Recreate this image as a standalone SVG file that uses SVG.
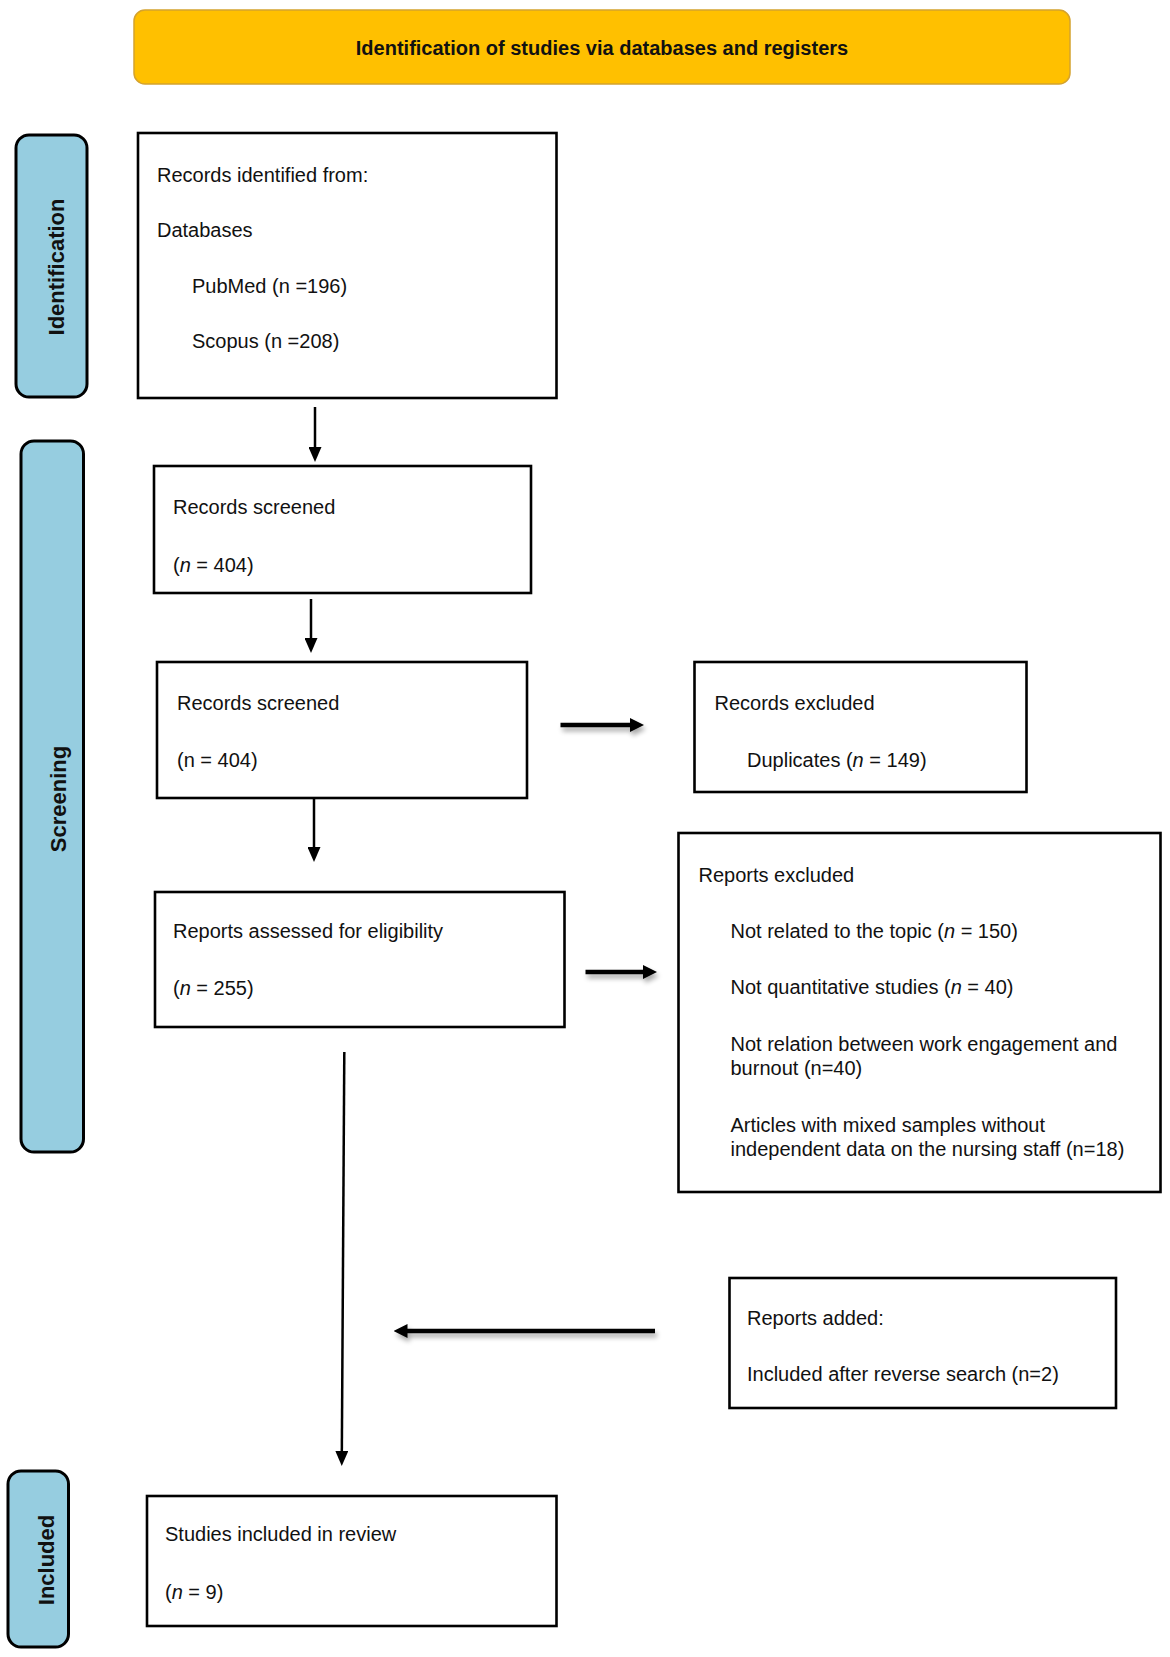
<svg xmlns="http://www.w3.org/2000/svg" width="1170" height="1657" viewBox="0 0 1170 1657">
<style>
.box{fill:#ffffff;stroke:#000000;stroke-width:2.6}
.lab{fill:#96cde0;stroke:#000000;stroke-width:3}
.hdr{fill:#ffc000;stroke:#d4a22e;stroke-width:1.5}
.t{font-family:"Liberation Sans",Arial,sans-serif;font-size:20px;fill:#111111}
.hb{font-family:"Liberation Sans",Arial,sans-serif;font-size:20px;font-weight:bold;fill:#111111}
.lt{font-family:"Liberation Sans",Arial,sans-serif;font-size:22px;font-weight:bold;fill:#111111}
.i{font-style:italic}
.thin{fill:none;stroke:#000000;stroke-width:2.5}
.thick{fill:none;stroke:#000000;stroke-width:4.5}
</style>
<defs>
<marker id="ah" viewBox="0 0 15 13" refX="7" refY="6.5" markerWidth="15" markerHeight="13" markerUnits="userSpaceOnUse" orient="auto">
<path d="M0,0 L15,6.5 L0,13 z" fill="#000000"/>
</marker>
<marker id="ahb" viewBox="0 0 14 14" refX="6" refY="7" markerWidth="14" markerHeight="14" markerUnits="userSpaceOnUse" orient="auto">
<path d="M0,0 L14,7 L0,14 z" fill="#000000"/>
</marker>
<filter id="sh" x="-20%" y="-200%" width="140%" height="500%">
<feGaussianBlur in="SourceAlpha" stdDeviation="2.5"/>
<feOffset dx="2" dy="4" result="b"/>
<feComponentTransfer><feFuncA type="linear" slope="0.35"/></feComponentTransfer>
<feMerge><feMergeNode/><feMergeNode in="SourceGraphic"/></feMerge>
</filter>
</defs>

<g id="header">
<rect class="hdr" x="134" y="10" width="936" height="74" rx="11"/>
<text class="hb" x="602" y="55" text-anchor="middle">Identification of studies via databases and registers</text>
</g>

<g id="label-identification">
<rect class="lab" x="16" y="135" width="71" height="262" rx="13"/>
<text class="lt" transform="translate(64,267) rotate(-90)" text-anchor="middle">Identification</text>
</g>
<g id="label-screening">
<rect class="lab" x="21" y="441" width="62.5" height="711" rx="13"/>
<text class="lt" transform="translate(66,799) rotate(-90)" text-anchor="middle">Screening</text>
</g>
<g id="label-included">
<rect class="lab" x="8" y="1471" width="60.5" height="176" rx="13"/>
<text class="lt" transform="translate(54,1560) rotate(-90)" text-anchor="middle">Included</text>
</g>

<g id="records-identified">
<rect class="box" x="138" y="133" width="418.5" height="265"/>
<text class="t" x="157" y="182">Records identified from:</text>
<text class="t" x="157" y="237">Databases</text>
<text class="t" x="192" y="293">PubMed (n =196)</text>
<text class="t" x="192" y="348">Scopus (n =208)</text>
</g>

<g id="records-screened-1">
<rect class="box" x="154" y="466" width="377" height="127"/>
<text class="t" x="173" y="514">Records screened</text>
<text class="t" x="173" y="572">(<tspan class="i">n</tspan> = 404)</text>
</g>

<g id="records-screened-2">
<rect class="box" x="157" y="662" width="370" height="136"/>
<text class="t" x="177" y="710">Records screened</text>
<text class="t" x="177" y="767">(n = 404)</text>
</g>

<g id="records-excluded">
<rect class="box" x="694.5" y="662" width="332" height="130"/>
<text class="t" x="714.5" y="710">Records excluded</text>
<text class="t" x="747" y="767">Duplicates (<tspan class="i">n</tspan> = 149)</text>
</g>

<g id="reports-assessed">
<rect class="box" x="155" y="892" width="409.5" height="135"/>
<text class="t" x="173" y="938">Reports assessed for eligibility</text>
<text class="t" x="173" y="995">(<tspan class="i">n</tspan> = 255)</text>
</g>

<g id="reports-excluded">
<rect class="box" x="678.5" y="833" width="482" height="359"/>
<text class="t" x="698.5" y="882">Reports excluded</text>
<text class="t" x="730.5" y="938">Not related to the topic (<tspan class="i">n</tspan> = 150)</text>
<text class="t" x="730.5" y="994">Not quantitative studies (<tspan class="i">n</tspan> = 40)</text>
<text class="t" x="730.5" y="1051">Not relation between work engagement and</text>
<text class="t" x="730.5" y="1075">burnout (n=40)</text>
<text class="t" x="730.5" y="1132">Articles with mixed samples without</text>
<text class="t" x="730.5" y="1156">independent data on the nursing staff (n=18)</text>
</g>

<g id="reports-added">
<rect class="box" x="729.5" y="1278" width="386.5" height="130"/>
<text class="t" x="747" y="1325">Reports added:</text>
<text class="t" x="747" y="1381">Included after reverse search (n=2)</text>
</g>

<g id="studies-included">
<rect class="box" x="147" y="1496" width="409.5" height="130"/>
<text class="t" x="165" y="1541">Studies included in review</text>
<text class="t" x="165" y="1599">(<tspan class="i">n</tspan> = 9)</text>
</g>

<g id="connectors">
<path class="thin" d="M315,407 L315,454" marker-end="url(#ah)"/>
<path class="thin" d="M311,599 L311,645" marker-end="url(#ah)"/>
<path class="thin" d="M314,798 L314,854" marker-end="url(#ah)"/>
<path class="thin" d="M344.3,1052 L341.8,1458" marker-end="url(#ah)"/>
<g filter="url(#sh)">
<path class="thick" d="M560.5,725 L636,725" marker-end="url(#ahb)"/>
<path class="thick" d="M585.5,972 L649,972" marker-end="url(#ahb)"/>
<path class="thick" d="M655,1331 L401.5,1331" marker-end="url(#ahb)"/>
</g>
</g>
</svg>
